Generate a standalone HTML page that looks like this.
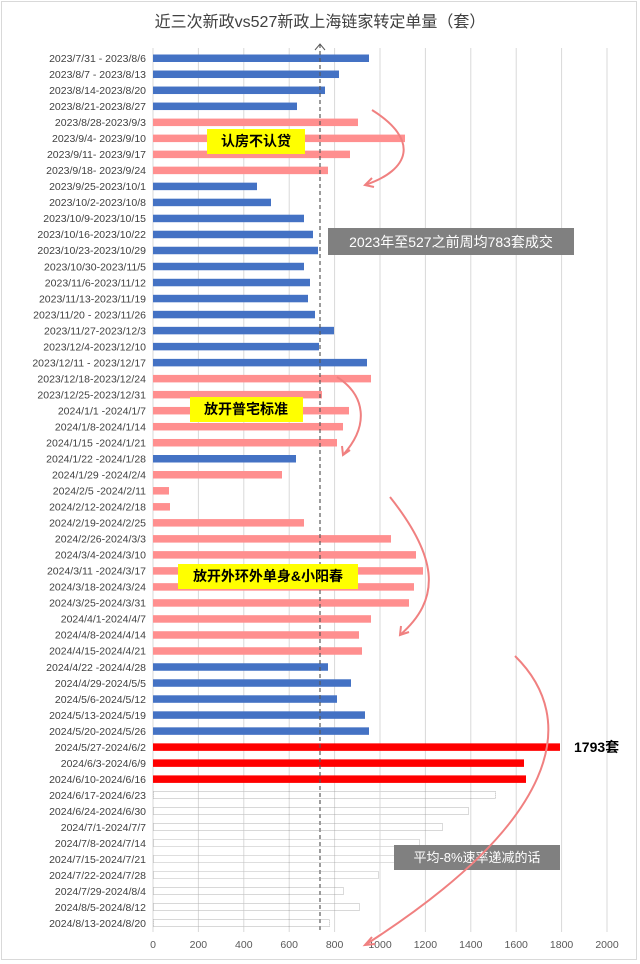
<!DOCTYPE html>
<html><head><meta charset="utf-8"><style>
body{margin:0;background:#fff;}
svg{display:block;}
text{font-family:"Liberation Sans","Noto Sans CJK SC",sans-serif;}
</style></head><body>
<svg width="640" height="964" viewBox="0 0 640 964" xmlns="http://www.w3.org/2000/svg">
<rect x="0" y="0" width="640" height="964" fill="#fff"/>
<rect x="1.5" y="1.5" width="635" height="958" fill="none" stroke="#d9d9d9"/>
<text x="320" y="27" font-size="16" text-anchor="middle" fill="#404040" font-family="Noto Serif CJK SC, serif">近三次新政vs527新政上海链家转定单量（套）</text>
<g id="grid" stroke="#d9d9d9" stroke-width="1"></g>
<g id="bars"></g>
<g id="labels" font-size="10.5" fill="#404040" text-anchor="end"></g>
<g id="ticks" font-size="10.5" fill="#595959" text-anchor="middle"></g>
<line x1="320" y1="44" x2="320" y2="932" stroke="#595959" stroke-dasharray="4,3" stroke-width="1.2"/>
<polyline points="315,50 320,44 325,50" fill="none" stroke="#595959" stroke-width="1"/>
<rect x="328" y="228" width="246" height="27" fill="#808080"/>
<text x="451" y="247" font-size="14" fill="#fff" text-anchor="middle">2023年至527之前周均783套成交</text>
<rect x="394" y="845" width="166" height="25" fill="#808080"/>
<text x="477" y="862" font-size="13" fill="#fff" text-anchor="middle">平均-8%速率递减的话</text>
<rect x="207" y="129" width="98" height="25" fill="#ffff00"/>
<text x="256" y="146" font-size="14" font-weight="bold" fill="#000" text-anchor="middle">认房不认贷</text>
<rect x="190" y="397" width="113" height="25" fill="#ffff00"/>
<text x="246" y="414" font-size="14" font-weight="bold" fill="#000" text-anchor="middle">放开普宅标准</text>
<rect x="178" y="564" width="180" height="25" fill="#ffff00"/>
<text x="268" y="581" font-size="14" font-weight="bold" fill="#000" text-anchor="middle">放开外环外单身&amp;小阳春</text>
<text x="574" y="752" font-size="14" font-weight="bold" fill="#000">1793套</text>
<g fill="none" stroke="#f08080" stroke-width="2">
<path d="M372,110 C420,140 410,170 365,185"/>
<polyline points="372,178 365,185 374,187"/>
<path d="M337,377 C365,395 370,425 343,455"/>
<polyline points="342,446 343,455 350,450"/>
<path d="M390,497 C440,560 440,600 400,635"/>
<polyline points="401,626 400,635 409,632"/>
<path d="M515,656 C580,720 560,820 365,945"/>
<polyline points="372,937 365,945 375,944"/>
</g>
<script>
var L=["2023/7/31 - 2023/8/6","2023/8/7 - 2023/8/13","2023/8/14-2023/8/20","2023/8/21-2023/8/27","2023/8/28-2023/9/3","2023/9/4- 2023/9/10","2023/9/11- 2023/9/17","2023/9/18- 2023/9/24","2023/9/25-2023/10/1","2023/10/2-2023/10/8","2023/10/9-2023/10/15","2023/10/16-2023/10/22","2023/10/23-2023/10/29","2023/10/30-2023/11/5","2023/11/6-2023/11/12","2023/11/13-2023/11/19","2023/11/20 - 2023/11/26","2023/11/27-2023/12/3","2023/12/4-2023/12/10","2023/12/11 - 2023/12/17","2023/12/18-2023/12/24","2023/12/25-2023/12/31","2024/1/1 -2024/1/7","2024/1/8-2024/1/14","2024/1/15 -2024/1/21","2024/1/22 -2024/1/28","2024/1/29 -2024/2/4","2024/2/5 -2024/2/11","2024/2/12-2024/2/18","2024/2/19-2024/2/25","2024/2/26-2024/3/3","2024/3/4-2024/3/10","2024/3/11 -2024/3/17","2024/3/18-2024/3/24","2024/3/25-2024/3/31","2024/4/1-2024/4/7","2024/4/8-2024/4/14","2024/4/15-2024/4/21","2024/4/22 -2024/4/28","2024/4/29-2024/5/5","2024/5/6-2024/5/12","2024/5/13-2024/5/19","2024/5/20-2024/5/26","2024/5/27-2024/6/2","2024/6/3-2024/6/9","2024/6/10-2024/6/16","2024/6/17-2024/6/23","2024/6/24-2024/6/30","2024/7/1-2024/7/7","2024/7/8-2024/7/14","2024/7/15-2024/7/21","2024/7/22-2024/7/28","2024/7/29-2024/8/4","2024/8/5-2024/8/12","2024/8/13-2024/8/20"];
var E=[369,339,325,297,358,405,350,328,257,271,304,313,318,304,310,308,315,334,319,367,371,322,349,343,337,296,282,169,170,304,391,416,423,414,409,371,359,362,328,351,337,365,369,560,524,526,496,469,443,420,400,379,344,360,330];
var pink=[4,5,6,7,20,21,22,23,24,26,27,28,29,30,31,32,33,34,35,36,37];
var ns="http://www.w3.org/2000/svg";
function el(t,a,p,txt){var e=document.createElementNS(ns,t);for(var k in a)e.setAttribute(k,a[k]);if(txt)e.textContent=txt;document.getElementById(p).appendChild(e);}
for(var i=0;i<=10;i++){var x=153+i*45.4;el("line",{x1:x,y1:48,x2:x,y2:932},"grid");el("text",{x:x,y:948},"ticks",String(i*200));}
for(var i=0;i<55;i++){var y=58+i*16.02;
el("text",{x:146,y:y+4},"labels",L[i]);
var c="#4472c4";if(pink.indexOf(i)>=0)c="#ff8f8f";if(i>=43&&i<=45)c="#ff0000";
if(i>=46)el("rect",{x:153.5,y:y-3.5,width:E[i]-154,height:7,fill:"none",stroke:"#a6a6a6","stroke-dasharray":"1,1","stroke-width":"0.8"},"bars");
else el("rect",{x:153,y:y-3.5,width:E[i]-153,height:7.5,fill:c},"bars");}
</script>
</svg>
</body></html>
